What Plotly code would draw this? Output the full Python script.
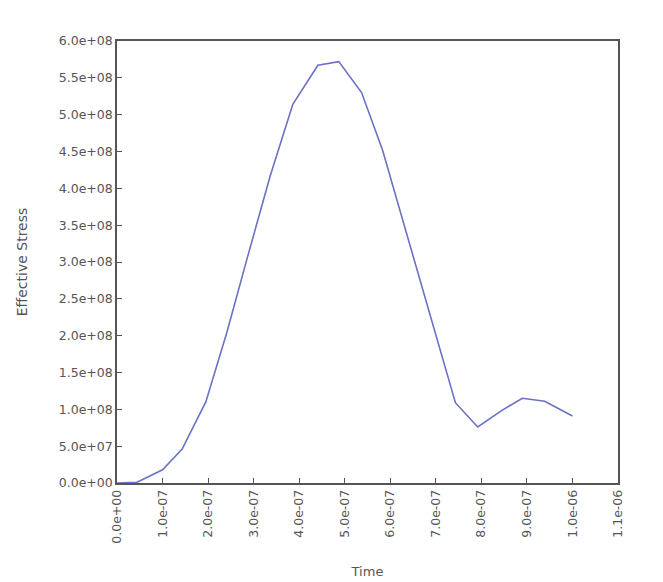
import plotly.graph_objects as go

time_vals = [0.0, 0.44e-7, 1.0e-7, 1.43e-7, 1.95e-7, 2.41e-7, 2.88e-7, 3.36e-7, 3.86e-7,
             4.41e-7, 4.87e-7, 5.37e-7, 5.83e-7, 6.37e-7, 6.9e-7, 7.43e-7, 7.92e-7,
             8.46e-7, 8.9e-7, 9.39e-7, 10.0e-7]
stress_vals = [0.0, 0.01e8, 0.18e8, 0.46e8, 1.10e8, 2.04e8, 3.10e8, 4.16e8, 5.14e8,
               5.67e8, 5.72e8, 5.30e8, 4.52e8, 3.36e8, 2.20e8, 1.09e8, 0.76e8,
               0.99e8, 1.15e8, 1.11e8, 0.91e8]

x_tick_vals = [0, 1e-7, 2e-7, 3e-7, 4e-7, 5e-7, 6e-7, 7e-7, 8e-7, 9e-7, 1.0e-6, 1.1e-6]
x_tick_text = ["0.0e+00", "1.0e-07", "2.0e-07", "3.0e-07", "4.0e-07", "5.0e-07",
               "6.0e-07", "7.0e-07", "8.0e-07", "9.0e-07", "1.0e-06", "1.1e-06"]
y_tick_vals = [0, 0.5e8, 1.0e8, 1.5e8, 2.0e8, 2.5e8, 3.0e8, 3.5e8, 4.0e8, 4.5e8, 5.0e8, 5.5e8, 6.0e8]
y_tick_text = ["0.0e+00", "5.0e+07", "1.0e+08", "1.5e+08", "2.0e+08", "2.5e+08", "3.0e+08",
               "3.5e+08", "4.0e+08", "4.5e+08", "5.0e+08", "5.5e+08", "6.0e+08"]

fig = go.Figure()
fig.add_trace(go.Scatter(x=time_vals, y=stress_vals, mode="lines",
                         line=dict(color="#6a72c4", width=1.6), showlegend=False))

font_color = "#555555"
fig.update_layout(
    width=663, height=582,
    margin=dict(l=109, r=53, t=33, b=107),
    paper_bgcolor="white", plot_bgcolor="white",
    font=dict(family="DejaVu Sans", size=12.5, color=font_color),
    xaxis=dict(range=[0, 1.1e-6], tickvals=x_tick_vals, ticktext=x_tick_text,
               tickangle=-90, ticks="inside", ticklen=5, tickcolor="#555555",
               showgrid=False, zeroline=False, showline=True, linecolor="#555555",
               linewidth=1.5, mirror=True,
               title=dict(text="Time", font=dict(size=13, color=font_color), standoff=24)),
    yaxis=dict(range=[0, 6.0e8], tickvals=y_tick_vals, ticktext=y_tick_text,
               ticks="inside", ticklen=5, tickcolor="#555555",
               showgrid=False, zeroline=False, showline=True, linecolor="#555555",
               linewidth=1.5, mirror=True,
               title=dict(text="Effective Stress", font=dict(size=14, color=font_color), standoff=28)),
)

fig.write_html("out.html")
